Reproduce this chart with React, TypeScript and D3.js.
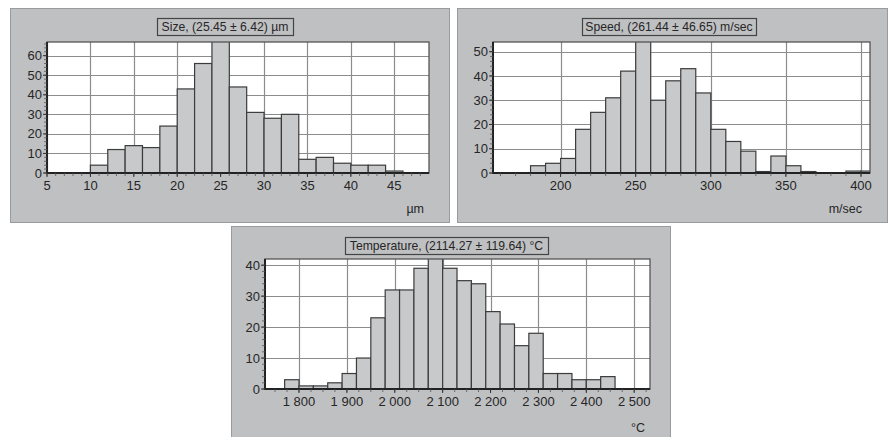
import React from 'react';
import * as d3 from 'd3';

// bin start values and counts
const sizeBinStarts = [10, 12, 14, 16, 18, 20, 22, 24, 26, 28, 30, 32, 34, 36, 38, 40, 42, 44];
const sizeCounts = [4, 12, 14, 13, 24, 43, 56, 70, 44, 31, 28, 30, 7, 8, 5, 4, 4, 1];
const sizeTicks = [5, 10, 15, 20, 25, 30, 35, 40, 45];
const sizeYTicks = [0, 10, 20, 30, 40, 50, 60];

const speedBinStarts = [180, 190, 200, 210, 220, 230, 240, 250, 260, 270, 280, 290, 300, 310, 320, 330, 340, 350, 360, 370, 380, 390, 400];
const speedCounts = [3, 4, 6, 18, 25, 31, 42, 58, 30, 38, 43, 33, 18, 13, 9, 0.6, 7, 3, 0.6, 0, 0, 0.8, 0.8];
const speedTicks = [200, 250, 300, 350, 400];
const speedYTicks = [0, 10, 20, 30, 40, 50];

const tempBinStarts = [1770, 1800, 1830, 1860, 1890, 1920, 1950, 1980, 2010, 2040, 2070, 2100, 2130, 2160, 2190, 2220, 2250, 2280, 2310, 2340, 2370, 2400, 2430];
const tempCounts = [3, 1, 1, 2, 5, 10, 23, 32, 32, 39, 45, 39, 35, 34, 25, 21, 14, 18, 5, 5, 3, 3, 4];
const tempTicks = [1800, 1900, 2000, 2100, 2200, 2300, 2400, 2500];
const tempYTicks = [0, 10, 20, 30, 40];

const FONT = '"Liberation Sans", Arial, sans-serif';
const PANEL = '#bfc0c2';
const BAR = '#c8c9cb';

interface Box { x: number; y: number; w: number; h: number }

interface HistProps {
  id: string;
  panel: Box;
  plot: Box;
  titleBox: Box;
  title: string;
  unit: string;
  xDomain: [number, number];
  yMax: number;
  binStarts: number[];
  binWidth: number;
  counts: number[];
  xTicks: number[];
  yTicks: number[];
  xMinor: number;
  yMinor: number;
  fmt?: (v: number) => string;
}

const Histogram = (p: HistProps) => {
  const x = d3.scaleLinear().domain(p.xDomain).range([p.plot.x, p.plot.x + p.plot.w]);
  const y = d3.scaleLinear().domain([0, p.yMax]).range([p.plot.y + p.plot.h, p.plot.y]);
  const bottom = p.plot.y + p.plot.h;
  const fmt = p.fmt || ((v: number) => String(v));

  const minorX = d3.range(Math.ceil(p.xDomain[0] / p.xMinor) * p.xMinor, p.xDomain[1], p.xMinor);
  const minorY = d3.range(0, p.yMax, p.yMinor);

  return (
    <g fontFamily={FONT}>
      <rect x={p.panel.x + 0.5} y={p.panel.y + 0.5} width={p.panel.w} height={p.panel.h}
        fill={PANEL} stroke="#9a9b9d" />
      <clipPath id={`clip-${p.id}`}>
        <rect x={p.plot.x} y={p.plot.y} width={p.plot.w} height={p.plot.h} />
      </clipPath>
      <rect x={p.plot.x} y={p.plot.y} width={p.plot.w} height={p.plot.h} fill="#fff" />
      {/* grid */}
      {p.xTicks.map((t) => (
        <line key={`gx${t}`} x1={Math.round(x(t)) + 0.5} x2={Math.round(x(t)) + 0.5}
          y1={p.plot.y} y2={bottom} stroke="#8c8c8c" strokeWidth={1.2} />
      ))}
      {p.yTicks.map((t) => (
        <line key={`gy${t}`} x1={p.plot.x} x2={p.plot.x + p.plot.w}
          y1={Math.round(y(t)) + 0.5} y2={Math.round(y(t)) + 0.5} stroke="#8c8c8c" strokeWidth={1.2} />
      ))}
      {/* bars */}
      <g clipPath={`url(#clip-${p.id})`}>
        {p.binStarts.map((b, i) => p.counts[i] > 0 && (
          <rect key={b} x={x(b)} y={y(p.counts[i])}
            width={x(b + p.binWidth) - x(b)} height={bottom - y(p.counts[i])}
            fill={BAR} stroke="#3c3c3c" strokeWidth={1.2} />
        ))}
      </g>
      {/* frame */}
      <rect x={p.plot.x} y={p.plot.y} width={p.plot.w} height={p.plot.h}
        fill="none" stroke="#555" strokeWidth={1.3} />
      <line x1={p.plot.x} x2={p.plot.x} y1={p.plot.y} y2={bottom + 1} stroke="#222" strokeWidth={2} />
      <line x1={p.plot.x - 1} x2={p.plot.x + p.plot.w} y1={bottom} y2={bottom} stroke="#222" strokeWidth={2} />
      {/* minor ticks */}
      {minorX.map((t) => (
        <line key={`mx${t}`} x1={x(t)} x2={x(t)} y1={bottom} y2={bottom + 3} stroke="#555" strokeWidth={0.8} />
      ))}
      {minorY.map((t) => (
        <line key={`my${t}`} x1={p.plot.x - 3} x2={p.plot.x} y1={y(t)} y2={y(t)} stroke="#555" strokeWidth={0.8} />
      ))}
      {/* major ticks + labels */}
      {p.xTicks.map((t) => (
        <g key={`tx${t}`}>
          <line x1={x(t)} x2={x(t)} y1={bottom} y2={bottom + 4} stroke="#333" />
          <text x={x(t)} y={bottom + 17} textAnchor="middle" fontSize={13} fill="#262626">{fmt(t)}</text>
        </g>
      ))}
      {p.yTicks.map((t) => (
        <g key={`ty${t}`}>
          <line x1={p.plot.x - 4} x2={p.plot.x} y1={y(t)} y2={y(t)} stroke="#333" />
          <text x={p.plot.x - 5} y={y(t)} dy="0.35em" textAnchor="end" fontSize={13} fill="#262626">{t}</text>
        </g>
      ))}
      {/* title */}
      <rect x={p.titleBox.x + 0.5} y={p.titleBox.y + 0.5} width={p.titleBox.w} height={p.titleBox.h}
        fill={PANEL} stroke="#444" strokeWidth={1.2} />
      <text x={p.titleBox.x + p.titleBox.w / 2} y={p.titleBox.y + p.titleBox.h / 2 + 0.5} dy="0.35em"
        textAnchor="middle" fontSize={12.2} fill="#262626">{p.title}</text>
      <text x={p.panel.x + p.panel.w - 25} y={p.panel.y + p.panel.h - 9} textAnchor="end"
        fontSize={12.5} fill="#262626">{p.unit}</text>
    </g>
  );
};

const spaced = (v: number) => {
  const s = String(v);
  return s.length > 3 ? `${s.slice(0, s.length - 3)} ${s.slice(-3)}` : s;
};

const App = () => (
  <svg width={890} height={437} style={{ position: 'absolute', left: 0, top: 0, background: '#fff' }}>
    <Histogram id="size"
      panel={{ x: 10, y: 8, w: 439, h: 214 }}
      plot={{ x: 47, y: 42, w: 382, h: 131 }}
      titleBox={{ x: 157, y: 18, w: 136, h: 17 }}
      title="Size, (25.45 ± 6.42) µm" unit="µm"
      xDomain={[5, 49]} yMax={67}
      binStarts={sizeBinStarts} binWidth={2} counts={sizeCounts}
      xTicks={sizeTicks} yTicks={sizeYTicks} xMinor={1} yMinor={2} />
    <Histogram id="speed"
      panel={{ x: 457, y: 8, w: 430, h: 214 }}
      plot={{ x: 493, y: 42, w: 377, h: 131 }}
      titleBox={{ x: 582, y: 18, w: 174, h: 17 }}
      title="Speed, (261.44 ± 46.65) m/sec" unit="m/sec"
      xDomain={[155, 406]} yMax={54}
      binStarts={speedBinStarts} binWidth={10} counts={speedCounts}
      xTicks={speedTicks} yTicks={speedYTicks} xMinor={10} yMinor={2} />
    <Histogram id="temp"
      panel={{ x: 231, y: 226, w: 439, h: 215 }}
      plot={{ x: 265, y: 259, w: 385, h: 130 }}
      titleBox={{ x: 345, y: 237, w: 203, h: 17 }}
      title="Temperature, (2114.27 ± 119.64) °C" unit="°C"
      xDomain={[1729, 2533]} yMax={42}
      binStarts={tempBinStarts} binWidth={30} counts={tempCounts}
      xTicks={tempTicks} yTicks={tempYTicks} xMinor={25} yMinor={2} fmt={spaced} />
  </svg>
);

export default App;
